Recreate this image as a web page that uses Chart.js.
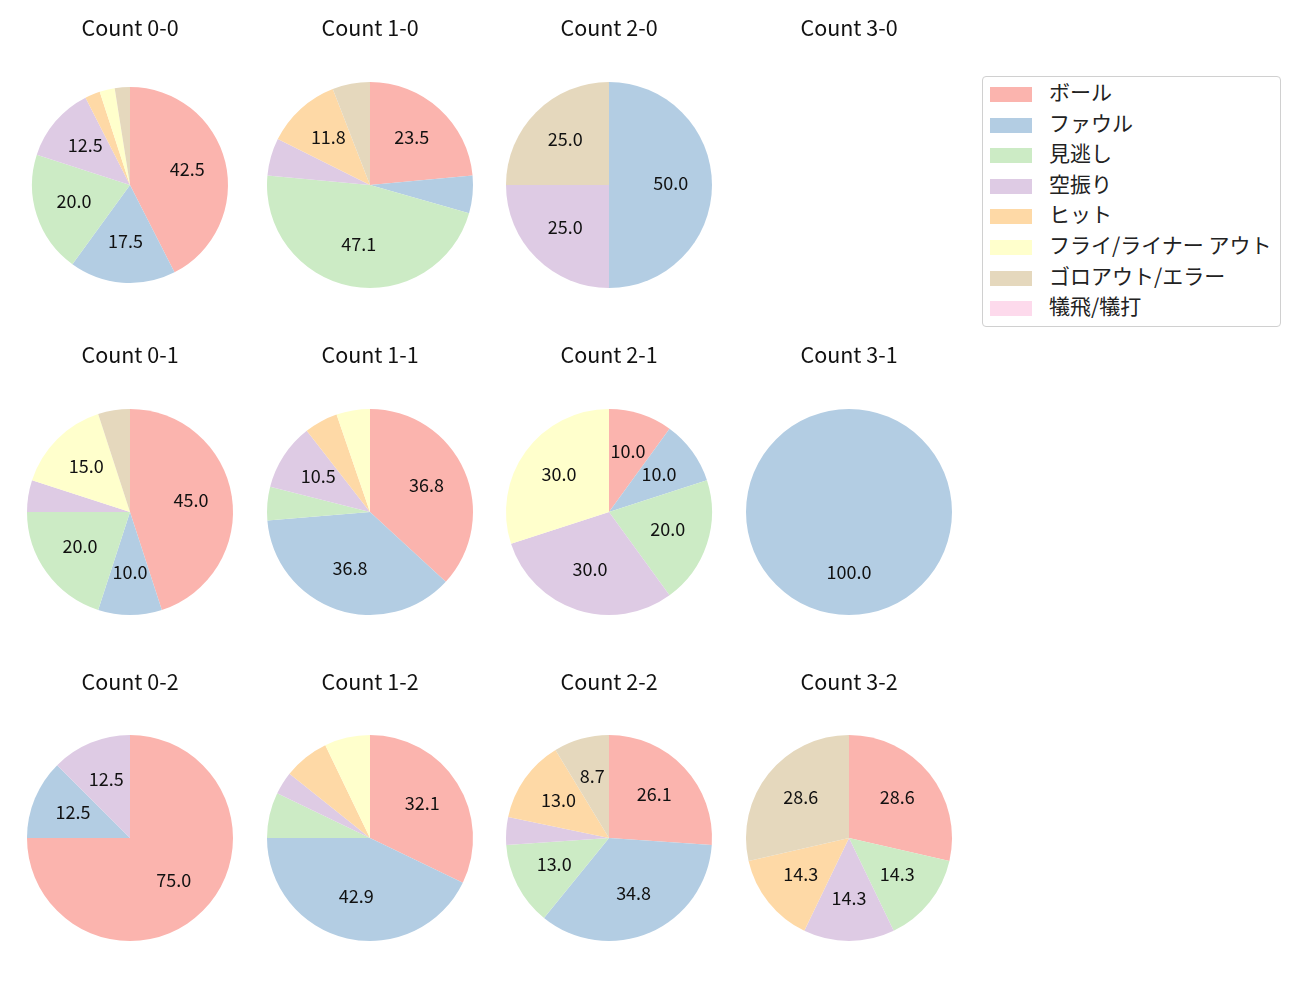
<!DOCTYPE html>
<html>
<head>
<meta charset="utf-8">
<script src="https://cdn.jsdelivr.net/npm/chart.js@4"></script>
<style>
  body { margin: 0; background: #fff; font-family: "Noto Sans CJK JP", "DejaVu Sans", sans-serif; }
  #page { position: relative; width: 1300px; height: 1000px; }
  .cell { position: absolute; }
  #legend { position: absolute; left: 982px; top: 76px; width: 297px; height: 249px;
    border: 1px solid #d0d0d0; border-radius: 4px; }
  .item { position: absolute; left: 7px; height: 20px; font-size: 21px; color: #222; }
  .sw { position: absolute; left: 0; top: 3px; width: 42px; height: 15px; }
  .tx { position: absolute; left: 59px; top: -8px; white-space: nowrap; line-height: 30px; }
</style>
</head>
<body>
<div id="page"><div id="legend"></div></div>
<script>
var categories = ['ボール', 'ファウル', '見逃し', '空振り', 'ヒット', 'フライ/ライナー アウト', 'ゴロアウト/エラー', '犠飛/犠打'];
var colors = ['#fbb4ae', '#b3cde3', '#ccebc5', '#decbe4', '#fed9a6', '#ffffcc', '#e5d8bd', '#fddaec'];

// pitch counts per ball-strike count (order follows categories)
var count00 = [17, 7, 8, 5, 1, 1, 1, 0];
var count10 = [4, 1, 8, 1, 2, 0, 1, 0];
var count20 = [0, 2, 0, 1, 0, 0, 1, 0];
var count30 = [0, 0, 0, 0, 0, 0, 0, 0];
var count01 = [9, 2, 4, 1, 0, 3, 1, 0];
var count11 = [7, 7, 1, 2, 1, 1, 0, 0];
var count21 = [1, 1, 2, 3, 0, 3, 0, 0];
var count31 = [0, 1, 0, 0, 0, 0, 0, 0];
var count02 = [6, 1, 0, 1, 0, 0, 0, 0];
var count12 = [9, 12, 2, 1, 2, 2, 0, 0];
var count22 = [6, 8, 3, 1, 3, 0, 2, 0];
var count32 = [2, 0, 1, 1, 1, 0, 2, 0];

var titles = [
  ['Count 0-0', 'Count 1-0', 'Count 2-0', 'Count 3-0'],
  ['Count 0-1', 'Count 1-1', 'Count 2-1', 'Count 3-1'],
  ['Count 0-2', 'Count 1-2', 'Count 2-2', 'Count 3-2']
];
var grid = [
  [count00, count10, count20, count30],
  [count01, count11, count21, count31],
  [count02, count12, count22, count32]
];

var colX = [129.5, 369.5, 609, 848.5];
var rowY = [185, 512, 838];
var titleY = [28, 355, 682];

// percentage labels at 60% of the radius, like autopct
var pctLabels = {
  id: 'pctLabels',
  afterDatasetsDraw: function(chart) {
    var ds = chart.data.datasets[0];
    if (!ds) return;
    var total = ds.data.reduce(function(a, b) { return a + b; }, 0);
    if (!total) return;
    var ctx = chart.ctx;
    ctx.save();
    ctx.font = '18px "Noto Sans CJK JP"';
    ctx.fillStyle = '#111';
    ctx.textAlign = 'center';
    ctx.textBaseline = 'middle';
    chart.getDatasetMeta(0).data.forEach(function(arc, i) {
      var pct = ds.data[i] / total * 100;
      if (pct < 8) return;
      var p = arc.getProps(['x', 'y', 'startAngle', 'endAngle', 'outerRadius'], true);
      var mid = (p.startAngle + p.endAngle) / 2;
      var rr = p.outerRadius * 0.6;
      ctx.fillText(pct.toFixed(1), p.x + Math.cos(mid) * rr, p.y + Math.sin(mid) * rr - 2);
    });
    ctx.restore();
  }
};

function makePie(r, c) {
  var page = document.getElementById('page');
  var cy = rowY[r];
  var boxTop = titleY[r] - 16;
  var boxH = cy + 110 - boxTop;
  var div = document.createElement('div');
  div.className = 'cell';
  div.style.left = (colX[c] - 120) + 'px';
  div.style.top = boxTop + 'px';
  div.style.width = '240px';
  div.style.height = boxH + 'px';
  var cv = document.createElement('canvas');
  div.appendChild(cv);
  page.appendChild(div);

  var values = grid[r][c];
  var empty = values.every(function(v) { return v === 0; });
  new Chart(cv, {
    type: 'pie',
    data: {
      labels: categories,
      datasets: empty ? [] : [{
        data: values,
        backgroundColor: colors,
        borderWidth: 0,
        radius: (r === 0 && c === 0) ? 98 : 103
      }]
    },
    options: {
      responsive: true,
      maintainAspectRatio: false,
      animation: false,
      events: [],
      layout: { padding: 0 },
      plugins: {
        legend: { display: false },
        tooltip: { enabled: false },
        title: {
          display: true,
          text: titles[r][c],
          color: '#111',
          font: { family: '"Noto Sans CJK JP"', size: 21.5, weight: 'normal' },
          padding: { top: 3.1, bottom: (cy - 110) - (boxTop + 28.9) }
        }
      }
    },
    plugins: [pctLabels]
  });
}

for (var r = 0; r < 3; r++) {
  for (var c = 0; c < 4; c++) makePie(r, c);
}

var legend = document.getElementById('legend');
categories.forEach(function(name, i) {
  var it = document.createElement('div');
  it.className = 'item';
  it.style.top = (7 + i * 30.6) + 'px';
  it.innerHTML = '<span class="sw" style="background:' + colors[i] + '"></span><span class="tx">' + name + '</span>';
  legend.appendChild(it);
});
</script>
</body>
</html>
